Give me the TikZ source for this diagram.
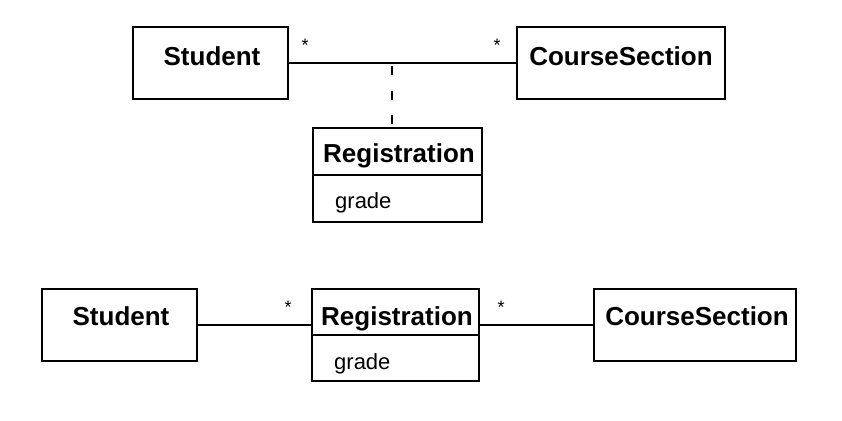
\documentclass[tikz,border=0pt]{standalone}
\usepackage{fontspec}
\setmainfont{Liberation Sans}
\begin{document}
\begin{tikzpicture}[x=1pt,y=-1pt,
  box/.style={draw, line width=1.9pt, inner sep=0pt},
  title/.style={font=\fontsize{26}{30}\selectfont\bfseries, inner sep=0pt, anchor=base},
  attr/.style={font=\fontsize{22}{26}\selectfont, inner sep=0pt, anchor=base west},
  mult/.style={font=\fontsize{18}{22}\selectfont, inner sep=0pt, anchor=base},
  conn/.style={line width=1.9pt},
  dconn/.style={line width=1.9pt, dash pattern=on 9pt off 15.5pt, dash phase=21.5pt}]
\useasboundingbox (0,0) rectangle (842,420);
% top diagram
\node[box, minimum width=155pt, minimum height=72pt] (s1) at (210.5,63) {};
\node[title] (s1t) at (212,66) {Student};
\node[box, minimum width=208pt, minimum height=72pt] (c1) at (621,63) {};
\node[title] (c1t) at (621,66) {CourseSection};
\node[box, minimum width=169pt, minimum height=94pt] (r1) at (397.5,175) {};
\draw[conn] (r1.west) -- (r1.east);
\node[title] (r1t) at (399,162) {Registration};
\node[attr] (r1a) at (335,208) {grade};
\draw[conn] (s1.east) -- (c1.west);
\coordinate (m1) at (392,63);
\draw[dconn] (m1) -- (m1 |- r1.north);
\node[mult] (m1a) at (305,52) {*};
\node[mult] (m1b) at (497,52) {*};
% bottom diagram
\node[box, minimum width=155pt, minimum height=72pt] (s2) at (119.5,325) {};
\node[title] (s2t) at (121,325) {Student};
\node[box, minimum width=167pt, minimum height=92pt] (r2) at (395.5,335) {};
\draw[conn] (r2.west) -- (r2.east);
\node[title] (r2t) at (397,325) {Registration};
\node[attr] (r2a) at (334,369) {grade};
\node[box, minimum width=202pt, minimum height=72pt] (c2) at (695,325) {};
\node[title] (c2t) at (697,325) {CourseSection};
\draw[conn] (s2.east) -- (s2.east -| r2.west);
\draw[conn] (r2.east |- c2.west) -- (c2.west);
\node[mult] (m2a) at (288,313) {*};
\node[mult] (m2b) at (501,313) {*};
\end{tikzpicture}
\end{document}
